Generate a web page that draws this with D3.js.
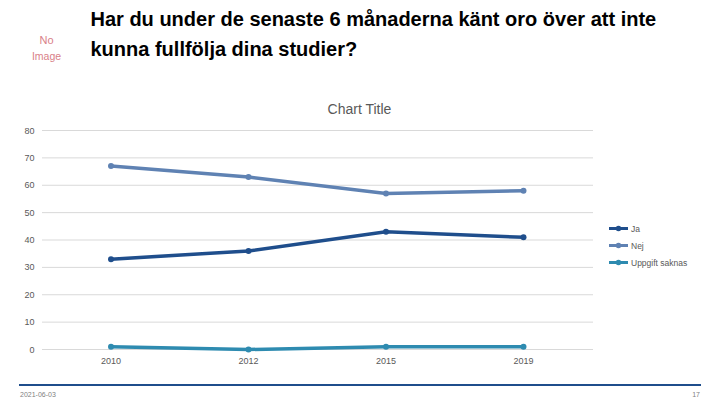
<!DOCTYPE html>
<html><head><meta charset="utf-8">
<script src="https://cdn.jsdelivr.net/npm/d3@7/dist/d3.min.js"></script>
<style>html,body{margin:0;padding:0;background:#fff}svg{display:block}text{font-family:"Liberation Sans",Arial,sans-serif}</style>
</head><body><svg id="c" width="720" height="405"></svg>
<script>
const categories = ["2010","2012","2015","2019"];
const yTicks = [0,10,20,30,40,50,60,70,80];
const seriesNames = ["Ja","Nej","Uppgift saknas"];
const ja = [33,36,43,41];
const nej = [67,63,57,58];
const saknas = [1,0,1,1];
const colors = ["#1f4e8c","#5f82b3","#2e8bb0"];
const titleLines = ["Har du under de senaste 6 månaderna känt oro över att inte","kunna fullfölja dina studier?"];

const svg = d3.select("#c");
const x = d3.scalePoint().domain(categories).range([111,523.5]);
const y = d3.scaleLinear().domain([0,80]).range([349.5,130.5]);

svg.selectAll(".grid").data(yTicks).join("line").attr("class","grid")
  .attr("x1",42).attr("x2",593).attr("y1",d=>y(d)).attr("y2",d=>y(d))
  .attr("stroke","#d9d9d9").attr("stroke-width",1);
svg.selectAll(".yl").data(yTicks).join("text").attr("class","yl")
  .attr("x",34.5).attr("y",d=>y(d)+3).attr("text-anchor","end")
  .attr("font-size",9).attr("fill","#595959").text(d=>d);
svg.selectAll(".xl").data(categories).join("text").attr("class","xl")
  .attr("x",d=>x(d)).attr("y",364).attr("text-anchor","middle")
  .attr("font-size",9).attr("fill","#595959").text(d=>d);

const line = d3.line().x((d,i)=>x(categories[i])).y(d=>y(d));
[ja,nej,saknas].forEach((vals,k)=>{
  svg.append("path").datum(vals).attr("d",line).attr("fill","none")
    .attr("stroke",colors[k]).attr("stroke-width",3.5);
  svg.selectAll(".m"+k).data(vals).join("circle").attr("class","m"+k)
    .attr("cx",(d,i)=>x(categories[i])).attr("cy",d=>y(d)).attr("r",3).attr("fill",colors[k]);
});

const legY = d3.scalePoint().domain(seriesNames).range([228.5,262.5]);
seriesNames.forEach((n,k)=>{
  svg.append("line").attr("x1",609).attr("x2",628).attr("y1",legY(n)).attr("y2",legY(n))
    .attr("stroke",colors[k]).attr("stroke-width",3);
  svg.append("circle").attr("cx",618.5).attr("cy",legY(n)).attr("r",2.8).attr("fill",colors[k]);
  svg.append("text").attr("x",631).attr("y",legY(n)+3).attr("font-size",8.5)
    .attr("fill","#595959").text(n);
});

svg.append("text").attr("x",359.5).attr("y",114).attr("text-anchor","middle")
  .attr("font-size",14).attr("fill","#595959").text("Chart Title");
svg.selectAll(".t").data(titleLines).join("text").attr("class","t")
  .attr("x",90.5).attr("y",(d,i)=>26+i*30).attr("font-size",20).attr("font-weight","bold")
  .attr("fill","#000").text(d=>d);

svg.append("text").attr("x",46.5).attr("y",44).attr("text-anchor","middle")
  .attr("font-size",11).attr("fill","#d98088").text("No");
svg.append("text").attr("x",46.5).attr("y",60).attr("text-anchor","middle")
  .attr("font-size",10.5).attr("fill","#d98088").text("Image");

svg.append("line").attr("x1",19).attr("x2",701).attr("y1",385).attr("y2",385)
  .attr("stroke","#1f4e8c").attr("stroke-width",2);
svg.append("text").attr("x",20).attr("y",397).attr("font-size",7).attr("fill","#7f7f7f").text("2021-06-03");
svg.append("text").attr("x",700).attr("y",397).attr("text-anchor","end").attr("font-size",7).attr("fill","#7f7f7f").text("17");
</script></body></html>
